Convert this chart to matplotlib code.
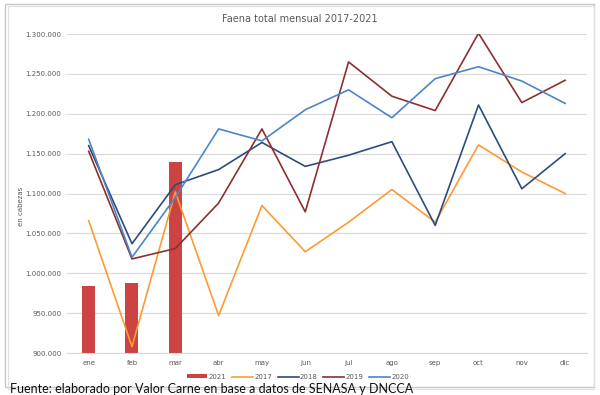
import matplotlib.pyplot as plt
import numpy as np

# meses y faena (cabezas)
meses = ['ene', 'feb', 'mar', 'abr', 'may', 'jun', 'jul', 'ago', 'sep', 'oct', 'nov', 'dic']
faena_2021 = [984000, 988000, 1139000]
faena_2017 = [1066000, 908000, 1102000, 947000, 1085000, 1027000, 1064000, 1105000, 1064000, 1161000, 1127000, 1100000]
faena_2018 = [1160000, 1037000, 1111000, 1130000, 1164000, 1134000, 1148000, 1165000, 1060000, 1211000, 1106000, 1150000]
faena_2019 = [1153000, 1018000, 1031000, 1088000, 1181000, 1077000, 1265000, 1222000, 1204000, 1301000, 1214000, 1242000]
faena_2020 = [1168000, 1020000, 1095000, 1181000, 1166000, 1205000, 1230000, 1195000, 1244000, 1259000, 1241000, 1213000]
yticks = [900000, 950000, 1000000, 1050000, 1100000, 1150000, 1200000, 1250000, 1300000]

fig = plt.figure(figsize=(6, 3.95), dpi=100)
ax = fig.add_axes([0.1117, 0.1063, 0.8663, 0.8076])

x = np.arange(len(meses))
barras = ax.bar(x[:len(faena_2021)], faena_2021, width=0.3, color='#cd4242', label='2021', zorder=2)
l17, = ax.plot(x, faena_2017, color='#ff9a33', lw=1.2, label='2017', zorder=3)
l18, = ax.plot(x, faena_2018, color='#2c4d7c', lw=1.2, label='2018', zorder=3)
l19, = ax.plot(x, faena_2019, color='#8e2f2f', lw=1.2, label='2019', zorder=3)
l20, = ax.plot(x, faena_2020, color='#4a86c8', lw=1.2, label='2020', zorder=3)

ax.set_xlim(-0.5, 11.5)
ax.set_ylim(900000, 1300000)
ax.set_yticks(yticks)
ax.set_yticklabels([f'{v:,}'.replace(',', '.') for v in yticks])
ax.set_xticks(x)
ax.set_xticklabels(meses)
ax.tick_params(length=0, labelsize=5, labelcolor='#595959')
ax.tick_params(axis='x', pad=5)
ax.tick_params(axis='y', pad=4)
ax.grid(axis='y', color='#d9d9d9', lw=0.9, zorder=0)
for s in ['top', 'right', 'left']:
    ax.spines[s].set_visible(False)
ax.spines['bottom'].set_color('#d9d9d9')
ax.set_ylabel('en cabezas', fontsize=5, color='#595959')
ax.yaxis.set_label_coords(-0.082, 0.46)

fig.text(0.5, 0.953, 'Faena total mensual 2017-2021', ha='center', va='center',
         fontsize=7, color='#595959')

ax.legend([barras, l17, l18, l19, l20], ['2021', '2017', '2018', '2019', '2020'],
          loc='center', bbox_to_anchor=(0.444, -0.075), ncol=5, frameon=False,
          fontsize=5, labelcolor='#595959', handlelength=3, handletextpad=0.2,
          columnspacing=0.8, handleheight=0.5)

fig.text(0.017, 0.006, 'Fuente: elaborado por Valor Carne en base a datos de SENASA y DNCCA',
         ha='left', va='baseline', fontsize=9, family='Lato', color='#111111')

# marco de la hoja
fig.add_artist(plt.Rectangle((0.008, 0.02), 0.982, 0.97, transform=fig.transFigure,
                             fill=False, ec='#c8c8c8', lw=1.0))
fig.add_artist(plt.Rectangle((0.014, 0.015), 0.976, 0.97, transform=fig.transFigure,
                             fill=False, ec='#e0e0e0', lw=0.8))

fig.savefig('out.png', dpi=100)
